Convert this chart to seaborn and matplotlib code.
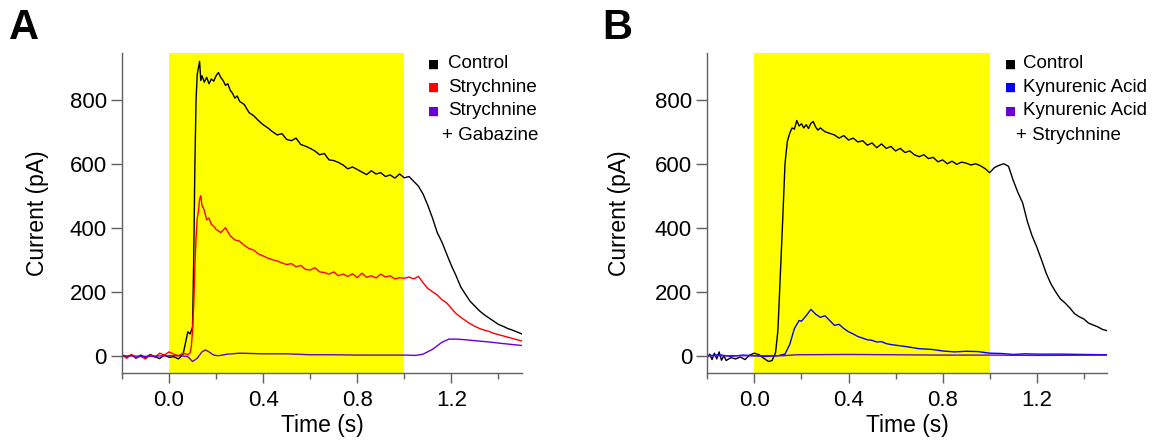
import numpy as np
import pandas as pd
import matplotlib
matplotlib.use('Agg')
import matplotlib.pyplot as plt
from matplotlib.ticker import FixedLocator
import seaborn as sns

# ============================================================
# Data
# ============================================================
# Panel A
a_ctrl_t = [-0.20, -0.18, -0.16, -0.14, -0.12, -0.10, -0.08, -0.06, -0.04, -0.02,
            0.00, 0.02, 0.04, 0.06, 0.07, 0.08, 0.09, 0.10, 0.105, 0.11, 0.115, 0.12,
            0.13, 0.135, 0.14, 0.15, 0.16, 0.17, 0.18, 0.19, 0.20, 0.21, 0.22, 0.23,
            0.24, 0.25, 0.26, 0.27, 0.28, 0.29, 0.30, 0.32, 0.34, 0.36, 0.38, 0.40,
            0.42, 0.44, 0.46, 0.48, 0.50, 0.52, 0.54, 0.56, 0.58, 0.60, 0.62, 0.64,
            0.66, 0.68, 0.70, 0.72, 0.74, 0.76, 0.78, 0.80, 0.82, 0.84, 0.86, 0.88,
            0.90, 0.92, 0.94, 0.96, 0.98, 1.00, 1.02, 1.04, 1.06, 1.08, 1.10, 1.12,
            1.14, 1.16, 1.18, 1.20, 1.22, 1.24, 1.26, 1.28, 1.30, 1.32, 1.34, 1.36,
            1.38, 1.40, 1.42, 1.44, 1.46, 1.48, 1.50]
a_ctrl_v = [0, -5, 3, -8, 2, -6, 4, -3, -9, 2,
            -5, -3, -10, 5, 40, 75, 68, 90, 300, 600, 800, 880,
            920, 860, 875, 855, 870, 850, 865, 858, 875, 885, 870, 860,
            845, 850, 830, 820, 805, 812, 795, 785, 760, 750, 735, 722,
            712, 700, 690, 694, 676, 672, 680, 660, 655, 648, 640, 628,
            632, 612, 610, 604, 596, 584, 590, 582, 574, 566, 578, 568,
            572, 560, 565, 555, 568, 556, 560, 545, 530, 505, 470, 430,
            385, 355, 318, 282, 250, 215, 192, 170, 155, 140, 128, 118,
            108, 98, 92, 85, 80, 74, 68]

a_stry_t = [-0.20, -0.18, -0.16, -0.14, -0.12, -0.10, -0.08, -0.06, -0.04, -0.02,
            0.00, 0.02, 0.04, 0.06, 0.08, 0.09, 0.095, 0.10, 0.105, 0.11, 0.115,
            0.12, 0.125, 0.13, 0.135, 0.14, 0.15, 0.16, 0.17, 0.18, 0.19, 0.20,
            0.22, 0.24, 0.26, 0.28, 0.30, 0.32, 0.34, 0.36, 0.38, 0.40, 0.42, 0.44,
            0.46, 0.48, 0.50, 0.52, 0.54, 0.56, 0.58, 0.60, 0.62, 0.64, 0.66, 0.68,
            0.70, 0.72, 0.74, 0.76, 0.78, 0.80, 0.82, 0.84, 0.86, 0.88, 0.90, 0.92,
            0.94, 0.96, 0.98, 1.00, 1.02, 1.04, 1.06, 1.08, 1.10, 1.12, 1.14, 1.16,
            1.18, 1.20, 1.22, 1.24, 1.26, 1.28, 1.30, 1.32, 1.34, 1.36, 1.38, 1.40,
            1.42, 1.44, 1.46, 1.48, 1.50]
a_stry_v = [5, -8, 4, -6, -2, -10, 3, -5, 8, 2,
            12, 5, 0, 8, 3, 10, 30, 80, 160, 280, 370,
            430, 450, 490, 500, 470, 455, 425, 430, 410, 405, 395,
            385, 400, 375, 362, 358, 345, 335, 330, 318, 312, 305, 300,
            296, 290, 285, 288, 278, 282, 270, 268, 275, 262, 260, 255,
            262, 250, 255, 248, 256, 244, 258, 245, 250, 243, 255, 246,
            250, 240, 244, 242, 246, 240, 248, 228, 210, 200, 190, 175,
            165, 148, 132, 120, 110, 100, 92, 85, 80, 76, 70, 66,
            62, 58, 54, 50, 46]

a_gbz_t = [-0.20, -0.10, 0.00, 0.05, 0.08, 0.10, 0.12, 0.14, 0.155, 0.17, 0.19,
           0.21, 0.25, 0.30, 0.35, 0.40, 0.50, 0.60, 0.70, 0.80, 0.90, 1.00, 1.05,
           1.08, 1.12, 1.16, 1.19, 1.22, 1.26, 1.30, 1.36, 1.42, 1.50]
a_gbz_v = [0, -2, 0, 0, -3, -18, -8, 12, 18, 12, 2,
           0, 5, 8, 7, 6, 6, 3, 3, 2, 2, 2, 1,
           5, 20, 42, 52, 52, 50, 47, 43, 38, 32]

# Panel B
b_ctrl_t = [-0.20, -0.19, -0.18, -0.17, -0.16, -0.15, -0.14, -0.13, -0.12, -0.10,
            -0.08, -0.06, -0.04, -0.02, 0.00, 0.02, 0.04, 0.06, 0.075, 0.09, 0.10,
            0.11, 0.12, 0.13, 0.14, 0.15, 0.16, 0.17, 0.18, 0.19, 0.20, 0.21, 0.22,
            0.23, 0.24, 0.25, 0.26, 0.27, 0.28, 0.30, 0.32, 0.34, 0.36, 0.38, 0.40,
            0.42, 0.44, 0.46, 0.48, 0.50, 0.52, 0.54, 0.56, 0.58, 0.60, 0.62, 0.64,
            0.66, 0.68, 0.70, 0.72, 0.74, 0.76, 0.78, 0.80, 0.82, 0.84, 0.86, 0.88,
            0.90, 0.92, 0.94, 0.96, 0.98, 1.00, 1.02, 1.04, 1.06, 1.08, 1.10, 1.12,
            1.14, 1.16, 1.18, 1.20, 1.22, 1.24, 1.26, 1.28, 1.30, 1.32, 1.34, 1.36,
            1.38, 1.40, 1.42, 1.44, 1.46, 1.48, 1.50]
b_ctrl_v = [-5, 5, -12, 8, -10, 12, -14, 0, -15, -6,
            -10, -4, -12, 2, 8, 3, -8, -18, -15, 10, 80,
            250, 420, 600, 670, 695, 712, 708, 735, 718, 725, 712, 722,
            710, 726, 732, 715, 705, 712, 700, 695, 690, 680, 688, 674,
            680, 668, 672, 658, 665, 650, 662, 648, 654, 640, 648, 635,
            640, 628, 622, 628, 616, 620, 606, 612, 600, 608, 598, 605,
            602, 596, 600, 594, 585, 572, 588, 595, 600, 592, 548, 510,
            478, 420, 375, 340, 300, 258, 225, 200, 178, 165, 150, 132,
            122, 115, 102, 96, 90, 82, 78]

b_kyn_t = [-0.20, -0.15, -0.10, -0.05, 0.00, 0.05, 0.10, 0.13, 0.15, 0.17, 0.19,
           0.20, 0.22, 0.24, 0.26, 0.28, 0.30, 0.32, 0.34, 0.36, 0.38, 0.40, 0.42,
           0.44, 0.46, 0.48, 0.50, 0.52, 0.54, 0.56, 0.58, 0.60, 0.65, 0.70, 0.75,
           0.80, 0.85, 0.90, 0.95, 1.00, 1.05, 1.10, 1.15, 1.20, 1.30, 1.40, 1.50]
b_kyn_v = [0, 3, -2, 2, 0, -2, 0, 5, 35, 85, 110,
           108, 125, 145, 130, 120, 125, 110, 95, 98, 85, 75, 68,
           60, 55, 50, 48, 43, 44, 38, 35, 33, 28, 22, 20,
           15, 12, 14, 13, 8, 7, 4, 6, 5, 5, 4, 3]

b_stry_t = [-0.20, 0.00, 0.12, 0.18, 0.40, 0.80, 1.00, 1.20, 1.50]
b_stry_v = [0, 0, 0, 3, 4, 2, 2, 1, 2]

labels_a = ['Control', 'Strychnine', 'Strychnine\n+ Gabazine']
labels_b = ['Control', 'Kynurenic Acid', 'Kynurenic Acid\n+ Strychnine']
colors_a = ['#000000', '#ff0000', '#6a00d5']
colors_b = ['#000000', '#0000ff', '#6a00d5']

x_major = [0.0, 0.4, 0.8, 1.2]
x_minor = [-0.2, 0.2, 0.6, 1.0, 1.4]
y_ticks = [0, 200, 400, 600, 800]


def make_df(series, labels):
    parts = []
    for (t, v), lab in zip(series, labels):
        parts.append(pd.DataFrame({'time': t, 'current': v, 'condition': lab}))
    return pd.concat(parts, ignore_index=True)


df_a = make_df([(a_ctrl_t, a_ctrl_v), (a_stry_t, a_stry_v), (a_gbz_t, a_gbz_v)], labels_a)
df_b = make_df([(b_ctrl_t, b_ctrl_v), (b_kyn_t, b_kyn_v), (b_stry_t, b_stry_v)], labels_b)

# ============================================================
# Figure
# ============================================================
sns.set_style('ticks')
plt.rcParams['font.family'] = ['Liberation Sans', 'DejaVu Sans']
plt.rcParams['text.color'] = 'black'
plt.rcParams['axes.labelcolor'] = 'black'

fig = plt.figure(figsize=(11.56, 4.44), dpi=100)
ax_a = fig.add_axes([0.1055, 0.1606, 0.346, 0.7207])
ax_b = fig.add_axes([0.6119, 0.1606, 0.346, 0.7207])

spine_c = '#606060'


def draw_panel(ax, df, labels, colors, letter, letter_x, ylab_x,
               sq_x, txt_x, plus_x, plus_txt):
    ax.axvspan(0.0, 1.0, color='#ffff00', zorder=0, lw=0)
    sns.lineplot(data=df, x='time', y='current', hue='condition',
                 hue_order=labels, palette=colors, estimator=None,
                 legend=False, lw=1.0, ax=ax)
    ax.set_xlim(-0.2, 1.5)
    ax.set_ylim(-53, 947)
    ax.xaxis.set_major_locator(FixedLocator(x_major))
    ax.xaxis.set_minor_locator(FixedLocator(x_minor))
    ax.set_xticklabels([f'{v:.1f}' for v in x_major])
    ax.set_yticks(y_ticks)
    ax.tick_params(axis='x', which='major', length=7, width=1, color=spine_c,
                   labelcolor='black', labelsize=16, pad=5.5)
    ax.tick_params(axis='x', which='minor', length=4, width=1, color=spine_c)
    ax.tick_params(axis='y', which='major', length=8, width=1, color=spine_c,
                   labelcolor='black', labelsize=16, pad=3)
    for s in ['top', 'right']:
        ax.spines[s].set_visible(False)
    for s in ['left', 'bottom']:
        ax.spines[s].set_color(spine_c)
        ax.spines[s].set_linewidth(1)
    ax.set_xlabel('Time (s)', fontsize=16.5)
    ax.set_ylabel('Current (pA)', fontsize=16.5)
    ax.xaxis.set_label_coords(0.5, -0.13)
    ax.yaxis.set_label_coords(ylab_x, 0.5)

    # legend drawn as text rows
    rows_y = [0.965, 0.891, 0.818]
    for y, lab, c in zip(rows_y, labels, colors):
        ax.text(sq_x, y, '\u25a0', color=c, fontsize=8.5, transform=ax.transAxes,
                ha='center', va='center', family=['DejaVu Sans'])
        ax.text(txt_x, y, lab.split('\n')[0], fontsize=13.5, transform=ax.transAxes,
                ha='left', va='center')
    ax.text(plus_x, 0.741, plus_txt, fontsize=13.5, transform=ax.transAxes,
            ha='left', va='center')

    ax.text(letter_x, 1.139, letter, fontsize=30, fontweight='bold',
            transform=ax.transAxes, ha='left', va='top')


draw_panel(ax_a, df_a, labels_a, colors_a, 'A', -0.282, -0.1825,
           0.780, 0.816, 0.799, '+ Gabazine')
draw_panel(ax_b, df_b, labels_b, colors_b, 'B', -0.264, -0.19,
           0.759, 0.790, 0.772, '+ Strychnine')

fig.savefig('out.png', dpi=100)
